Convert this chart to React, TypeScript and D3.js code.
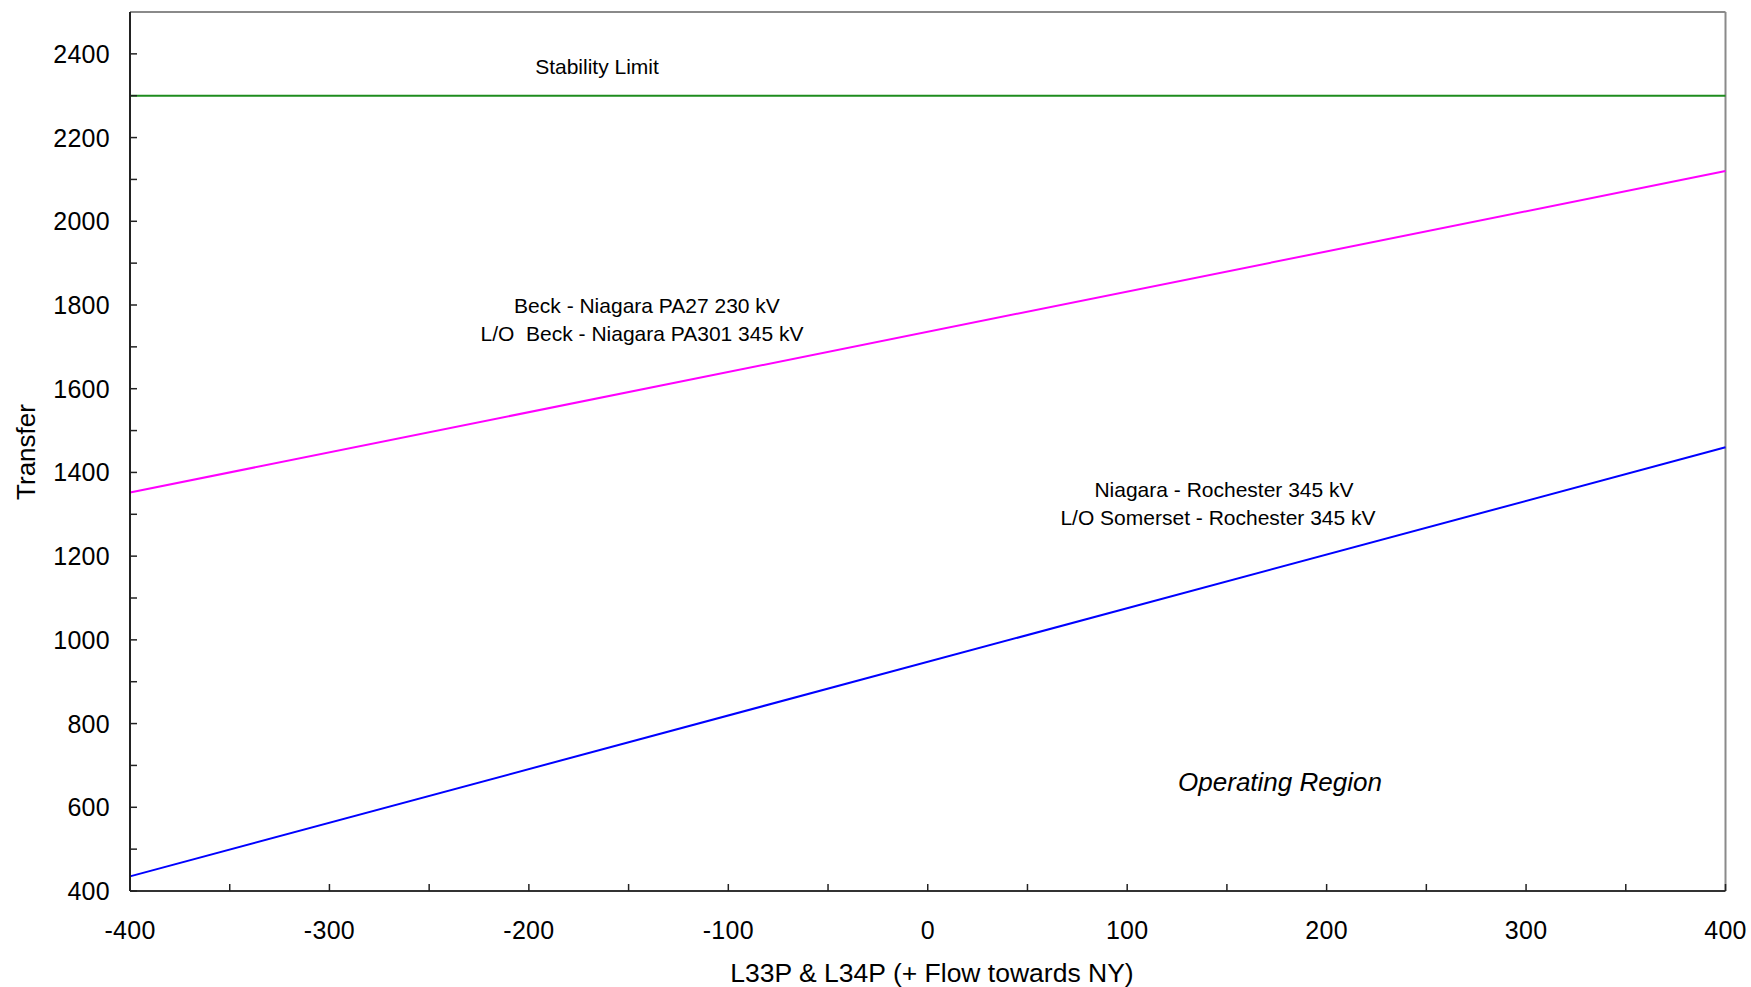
import React from "react";
import * as d3 from "d3";

const flowX = [-400, 400];
const stabilityLimit = [2300, 2300];
const beckLimit = [1352, 2120];
const rochesterLimit = [435, 1460];
const xTickValues = [-400, -300, -200, -100, 0, 100, 200, 300, 400];
const xMinorTicks = [-400, -350, -300, -250, -200, -150, -100, -50, 0, 50, 100, 150, 200, 250, 300, 350, 400];
const yTickValues = [400, 600, 800, 1000, 1200, 1400, 1600, 1800, 2000, 2200, 2400];
const yMinorTicks = [400, 500, 600, 700, 800, 900, 1000, 1100, 1200, 1300, 1400, 1500, 1600, 1700, 1800, 1900, 2000, 2100, 2200, 2300, 2400];

const W = 1751;
const H = 987;
const L = 130;
const R = 1725.5;
const T = 12;
const B = 891;
const FONT = "'Liberation Sans', Arial, sans-serif";

export default function App() {
  const x = d3.scaleLinear().domain([-400, 400]).range([L, R]);
  const y = d3.scaleLinear().domain([400, 2500]).range([B, T]);
  const line = d3
    .line<[number, number]>()
    .x((d) => x(d[0]))
    .y((d) => y(d[1]));
  const series = [
    { vals: stabilityLimit, color: "#1e8c1e" },
    { vals: beckLimit, color: "#ff00ff" },
    { vals: rochesterLimit, color: "#0000ff" },
  ];
  return (
    <svg
      width={W}
      height={H}
      style={{ position: "absolute", left: 0, top: 0, background: "#fff" }}
      fontFamily={FONT}
    >
      <rect x={0} y={0} width={W} height={H} fill="#fff" />
      <line x1={L} y1={T} x2={R} y2={T} stroke="#8a8a8a" strokeWidth={2} />
      <line x1={R} y1={T} x2={R} y2={B} stroke="#8a8a8a" strokeWidth={2} />
      {series.map((s, i) => (
        <path
          key={i}
          d={line(flowX.map((v, j) => [v, s.vals[j]] as [number, number])) || ""}
          fill="none"
          stroke={s.color}
          strokeWidth={2}
        />
      ))}
      <line x1={L} y1={T} x2={L} y2={B} stroke="#222" strokeWidth={2} />
      <line x1={L} y1={B} x2={R} y2={B} stroke="#333" strokeWidth={2} />
      {yMinorTicks.map((v) => (
        <line key={"ym" + v} x1={L} x2={L + 7} y1={y(v)} y2={y(v)} stroke="#222" strokeWidth={1.5} />
      ))}
      {xMinorTicks.map((v) => (
        <line key={"xm" + v} x1={x(v)} x2={x(v)} y1={B} y2={B - 7} stroke="#222" strokeWidth={1.5} />
      ))}
      {yTickValues.map((v) => (
        <text key={"yl" + v} x={110} y={y(v) + 9} textAnchor="end" fontSize={25} letterSpacing={0.3} fill="#000">
          {v}
        </text>
      ))}
      {xTickValues.map((v) => (
        <text key={"xl" + v} x={x(v)} y={939} textAnchor="middle" fontSize={25} letterSpacing={0.3} fill="#000">
          {v}
        </text>
      ))}
      <text x={932} y={982} textAnchor="middle" fontSize={26.5} fill="#000">
        L33P &amp; L34P (+ Flow towards NY)
      </text>
      <text
        transform={`translate(35,452) rotate(-90)`}
        textAnchor="middle"
        fontSize={26}
        fill="#000"
      >
        Transfer
      </text>
      <text x={597} y={74} textAnchor="middle" fontSize={21} fill="#000">
        Stability Limit
      </text>
      <text x={647} y={313} textAnchor="middle" fontSize={21} fill="#000">
        Beck - Niagara PA27 230 kV
      </text>
      <text x={642} y={341} textAnchor="middle" fontSize={21} fill="#000" style={{ whiteSpace: "pre" }}>
        {"L/O  Beck - Niagara PA301 345 kV"}
      </text>
      <text x={1224} y={497} textAnchor="middle" fontSize={21} fill="#000">
        Niagara - Rochester 345 kV
      </text>
      <text x={1218} y={525} textAnchor="middle" fontSize={21} fill="#000">
        L/O Somerset - Rochester 345 kV
      </text>
      <text x={1280} y={791} textAnchor="middle" fontSize={26} fontStyle="italic" fill="#000">
        Operating Region
      </text>
    </svg>
  );
}
